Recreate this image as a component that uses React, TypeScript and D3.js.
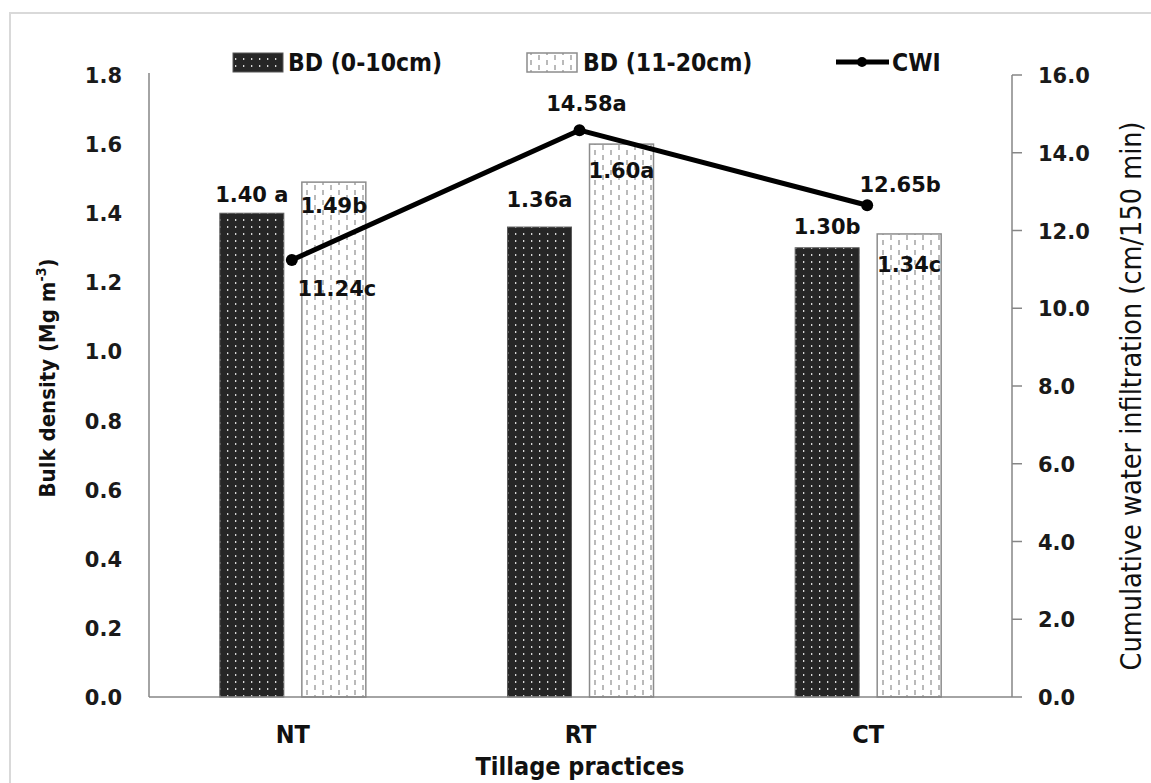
import * as d3 from 'd3';
import { useEffect, useRef } from 'react';

const practices = ['NT', 'RT', 'CT'];
const bdTop = [1.4, 1.36, 1.3];
const bdSub = [1.49, 1.6, 1.34];
const cwi = [11.24, 14.58, 12.65];
const bdTopLabels = ['1.40 a', '1.36a', '1.30b'];
const bdSubLabels = ['1.49b', '1.60a', '1.34c'];
const cwiLabels = ['11.24c', '14.58a', '12.65b'];
const leftTicks = [0, 0.2, 0.4, 0.6, 0.8, 1.0, 1.2, 1.4, 1.6, 1.8];
const rightTicks = [0, 2, 4, 6, 8, 10, 12, 14, 16];

// hand placed label offsets, as in the original figure
const topLabelDy = [-11, -20, -14];
const subLabelDy = [31, 34, 38];
const cwiLabelDx = [45, 7, 33];
const cwiLabelDy = [36, -19, -13];

const narrow = "'Liberation Sans Narrow', 'DejaVu Sans Condensed', 'Arial Narrow', sans-serif";
const wide = "'DejaVu Sans', Verdana, sans-serif";

export default function App() {
  const w = 1151;
  const h = 783;
  const svgRef = useRef<SVGSVGElement>(null);

  useEffect(() => {
    if (svgRef.current == null) {
      return;
    }
    const svg = d3.select(svgRef.current);
    svg.selectAll('*').remove();

    const left = 149;
    const right = 1012;
    const top = 75;
    const bottom = 697;

    const x = d3.scaleBand().domain(practices).range([left, right]);
    const inner = d3.scaleBand().domain(['top', 'sub']).range([-73, 73]).paddingInner(0.22);
    const yL = d3.scaleLinear().domain([0, 1.8]).range([bottom, top]);
    const yR = d3.scaleLinear().domain([0, 16]).range([bottom, top]);
    const cx = (p: string) => (x(p) ?? 0) + x.bandwidth() / 2;

    const defs = svg.append('defs');
    const dots = defs
      .append('pattern')
      .attr('id', 'dots')
      .attr('patternUnits', 'userSpaceOnUse')
      .attr('width', 8)
      .attr('height', 7);
    dots.append('rect').attr('width', 8).attr('height', 7).attr('fill', '#262626');
    dots.append('rect').attr('x', 3).attr('y', 2).attr('width', 1.3).attr('height', 2).attr('fill', '#d8d8d8');

    const dashes = defs
      .append('pattern')
      .attr('id', 'dashes')
      .attr('patternUnits', 'userSpaceOnUse')
      .attr('width', 16)
      .attr('height', 10);
    dashes.append('rect').attr('width', 16).attr('height', 10).attr('fill', '#fff');
    dashes.append('line').attr('x1', 3).attr('x2', 3).attr('y1', 0).attr('y2', 5).attr('stroke', '#8c8c8c').attr('stroke-width', 1.2);
    dashes.append('line').attr('x1', 11).attr('x2', 11).attr('y1', 5).attr('y2', 10).attr('stroke', '#8c8c8c').attr('stroke-width', 1.2);

    // chart area border
    svg
      .append('rect')
      .attr('x', 10)
      .attr('y', 13)
      .attr('width', 1160)
      .attr('height', 800)
      .attr('fill', 'none')
      .attr('stroke', '#d9d9d9')
      .attr('stroke-width', 2);

    // bars
    practices.forEach((p, i) => {
      const x0 = cx(p);
      svg
        .append('rect')
        .attr('x', x0 + (inner('top') ?? 0))
        .attr('y', yL(bdTop[i]))
        .attr('width', inner.bandwidth())
        .attr('height', bottom - yL(bdTop[i]))
        .attr('fill', 'url(#dots)')
        .attr('stroke', '#595959')
        .attr('stroke-width', 1);
      svg
        .append('rect')
        .attr('x', x0 + (inner('sub') ?? 0))
        .attr('y', yL(bdSub[i]))
        .attr('width', inner.bandwidth())
        .attr('height', bottom - yL(bdSub[i]))
        .attr('fill', 'url(#dashes)')
        .attr('stroke', '#8c8c8c')
        .attr('stroke-width', 1.5);
    });

    // axes lines
    svg.append('line').attr('x1', left).attr('x2', left).attr('y1', top - 2).attr('y2', bottom).attr('stroke', '#868686').attr('stroke-width', 1.5);
    svg.append('line').attr('x1', left).attr('x2', right).attr('y1', bottom).attr('y2', bottom).attr('stroke', '#868686').attr('stroke-width', 1.5);
    svg.append('line').attr('x1', right).attr('x2', right).attr('y1', top).attr('y2', bottom).attr('stroke', '#868686').attr('stroke-width', 1.5);

    for (const t of rightTicks) {
      svg.append('line').attr('x1', right).attr('x2', right + 10).attr('y1', yR(t)).attr('y2', yR(t)).attr('stroke', '#868686').attr('stroke-width', 1.5);
      svg
        .append('text')
        .attr('x', 1038)
        .attr('y', yR(t) + 8)
        .attr('font-family', wide)
        .attr('font-weight', 'bold')
        .attr('font-size', 21)
        .attr('fill', '#1a1a1a')
        .text(t.toFixed(1));
    }
    for (const t of leftTicks) {
      svg
        .append('text')
        .attr('x', 122)
        .attr('y', yL(t) + 8)
        .attr('text-anchor', 'end')
        .attr('font-family', wide)
        .attr('font-weight', 'bold')
        .attr('font-size', 21)
        .attr('fill', '#1a1a1a')
        .text(t.toFixed(1));
    }
    for (const p of practices) {
      svg
        .append('text')
        .attr('x', cx(p))
        .attr('y', 743)
        .attr('text-anchor', 'middle')
        .attr('font-family', narrow)
        .attr('font-weight', 'bold')
        .attr('font-size', 25)
        .attr('fill', '#111')
        .text(p);
    }

    // CWI line
    const line = d3
      .line<number>()
      .x((_, i) => cx(practices[i]) - 1)
      .y((d) => yR(d));
    svg.append('path').attr('d', line(cwi)).attr('fill', 'none').attr('stroke', '#000').attr('stroke-width', 5).attr('stroke-linejoin', 'round');
    cwi.forEach((v, i) => {
      svg.append('circle').attr('cx', cx(practices[i]) - 1).attr('cy', yR(v)).attr('r', 6).attr('fill', '#000');
    });

    // value labels
    const valueText = (tx: number, ty: number, s: string) =>
      svg
        .append('text')
        .attr('x', tx)
        .attr('y', ty)
        .attr('text-anchor', 'middle')
        .attr('font-family', wide)
        .attr('font-weight', 'bold')
        .attr('font-size', 21)
        .attr('fill', '#111')
        .text(s);
    practices.forEach((p, i) => {
      const x0 = cx(p);
      valueText(x0 + (inner('top') ?? 0) + inner.bandwidth() / 2, yL(bdTop[i]) + topLabelDy[i], bdTopLabels[i]);
      valueText(x0 + (inner('sub') ?? 0) + inner.bandwidth() / 2, yL(bdSub[i]) + subLabelDy[i], bdSubLabels[i]);
      valueText(x0 - 1 + cwiLabelDx[i], yR(cwi[i]) + cwiLabelDy[i], cwiLabels[i]);
    });

    // legend
    const legendText = (tx: number, s: string) =>
      svg
        .append('text')
        .attr('x', tx)
        .attr('y', 71)
        .attr('font-family', narrow)
        .attr('font-weight', 'bold')
        .attr('font-size', 24.5)
        .attr('fill', '#111')
        .text(s);
    svg.append('rect').attr('x', 233).attr('y', 53).attr('width', 50).attr('height', 19).attr('fill', 'url(#dots)').attr('stroke', '#595959');
    legendText(288, 'BD (0-10cm)');
    svg.append('rect').attr('x', 527).attr('y', 53).attr('width', 50).attr('height', 19).attr('fill', 'url(#dashes)').attr('stroke', '#8c8c8c').attr('stroke-width', 1.5);
    legendText(583, 'BD (11-20cm)');
    svg.append('line').attr('x1', 836).attr('x2', 889).attr('y1', 62).attr('y2', 62).attr('stroke', '#000').attr('stroke-width', 5);
    svg.append('circle').attr('cx', 862).attr('cy', 62).attr('r', 5).attr('fill', '#000');
    legendText(892, 'CWI');

    // axis titles
    svg
      .append('text')
      .attr('x', 580)
      .attr('y', 775)
      .attr('text-anchor', 'middle')
      .attr('font-family', narrow)
      .attr('font-weight', 'bold')
      .attr('font-size', 25)
      .attr('fill', '#111')
      .text('Tillage practices');

    const lt = svg
      .append('text')
      .attr('transform', 'translate(55,378) rotate(-90)')
      .attr('text-anchor', 'middle')
      .attr('font-family', narrow)
      .attr('font-weight', 'bold')
      .attr('font-size', 22)
      .attr('fill', '#111');
    lt.append('tspan').text('Bulk density (Mg m');
    lt.append('tspan').attr('font-size', 14).attr('dy', -9).text('-3');
    lt.append('tspan').attr('dy', 9).text(')');

    svg
      .append('text')
      .attr('transform', 'translate(1141,396) rotate(-90)')
      .attr('text-anchor', 'middle')
      .attr('font-family', narrow)
      .attr('font-size', 28.5)
      .attr('fill', '#111')
      .text('Cumulative water infiltration (cm/150 min)');
  }, []);

  return (
    <svg
      ref={svgRef}
      width={w}
      height={h}
      style={{ position: 'absolute', left: 0, top: 0, background: '#fff' }}
    ></svg>
  );
}
